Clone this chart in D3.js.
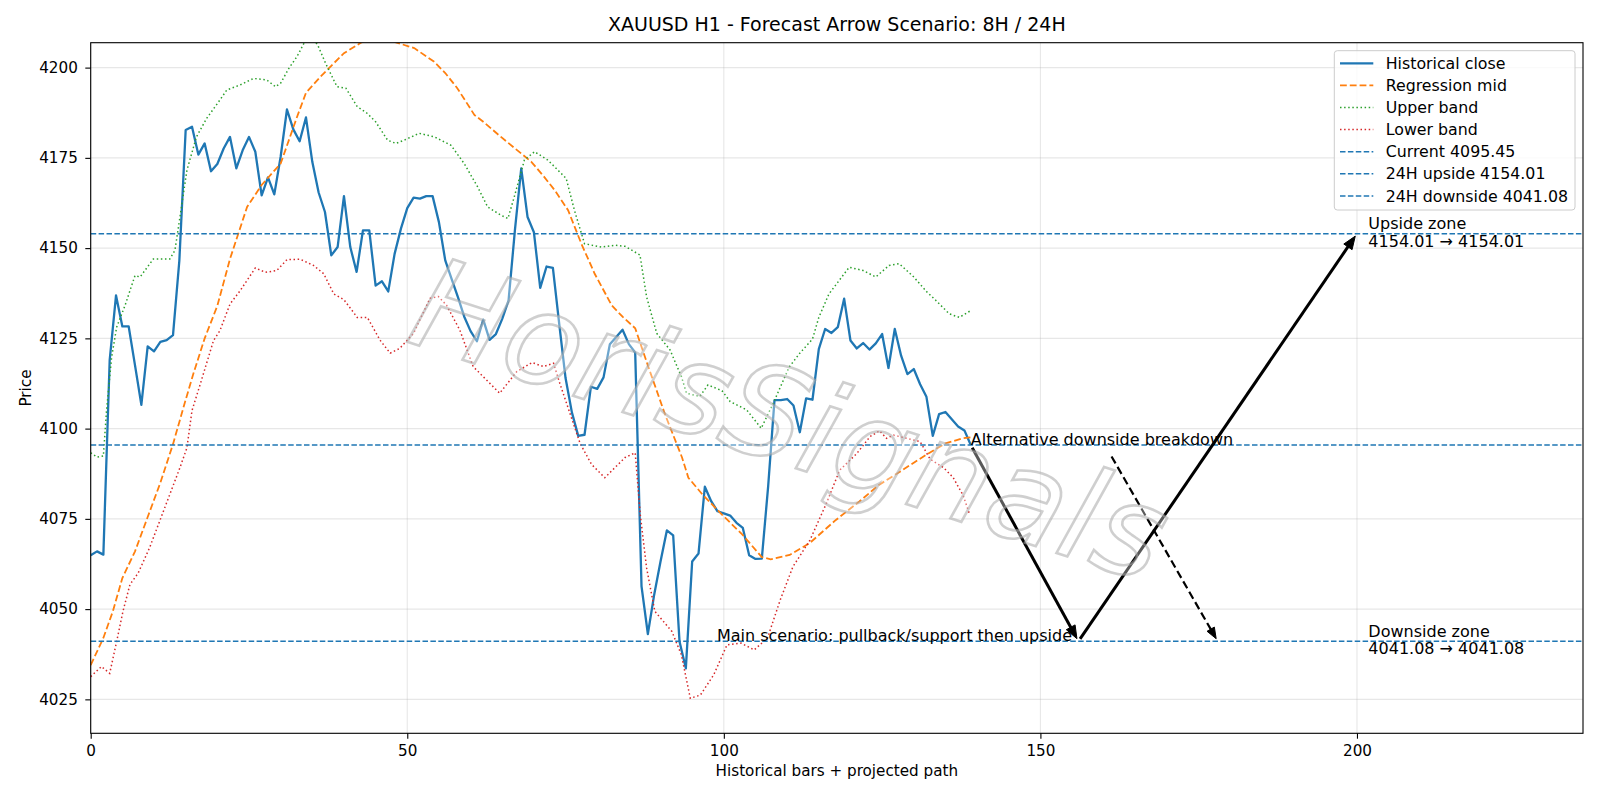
<!DOCTYPE html>
<html>
<head>
<meta charset="utf-8">
<script src="https://cdn.jsdelivr.net/npm/d3@7"></script>
<style>
  body { margin: 0; background: #fff; }
  svg text { font-family: "DejaVu Sans", sans-serif; }
</style>
</head>
<body>
<svg id="chart" width="1600" height="800"></svg>
<script>
// historical closes, one per bar (0..139)
const closes = [4064.9, 4066.0, 4065.1, 4119.0, 4136.9, 4128.3, 4128.3, 4117.5, 4106.6, 4122.8,
  4121.4, 4124.0, 4124.5, 4125.9, 4146.5, 4182.7, 4183.6, 4175.9, 4179.0, 4171.3,
  4173.3, 4177.6, 4180.8, 4172.1, 4177.1, 4180.8, 4176.7, 4164.6, 4169.6, 4164.9,
  4175.3, 4188.4, 4182.9, 4179.6, 4186.2, 4173.9, 4165.4, 4160.0, 4148.0, 4150.3,
  4164.4, 4150.3, 4143.4, 4154.9, 4154.9, 4139.6, 4140.8, 4138.0, 4148.4, 4155.4,
  4161.1, 4164.0, 4163.7, 4164.4, 4164.4, 4157.2, 4146.6, 4141.5, 4136.4, 4131.0,
  4127.0, 4124.2, 4130.2, 4124.6, 4126.2, 4130.4, 4135.5, 4154.9, 4172.1, 4158.6,
  4154.4, 4139.0, 4144.9, 4144.5, 4129.0, 4114.0, 4104.5, 4098.0, 4098.3, 4111.6,
  4111.0, 4114.2, 4123.4, 4125.4, 4127.4, 4123.4, 4121.1, 4056.3, 4043.1, 4054.0,
  4063.2, 4071.8, 4070.4, 4041.0, 4033.6, 4063.2, 4065.4, 4083.9, 4079.9, 4077.1,
  4076.5, 4075.9, 4073.9, 4072.5, 4064.9, 4063.9, 4064.0, 4084.0, 4107.9, 4107.9,
  4108.2, 4106.4, 4099.0, 4108.4, 4108.0, 4122.0, 4127.6, 4126.5, 4128.1, 4136.0,
  4124.4, 4122.2, 4123.7, 4121.9, 4123.6, 4126.2, 4116.8, 4127.6, 4120.2, 4115.1,
  4116.5, 4112.3, 4108.8, 4098.0, 4104.0, 4104.6, 4102.6, 4100.6, 4099.5, 4095.45];

// regression mid [bar, price]
const midLine = [[0,4034.5],[2,4042],[3.5,4049.4],[5,4058.6],[7,4066],[9,4075.5],[11,4085],[13,4095.7],
  [15,4108],[16.2,4115.1],[18,4125],[20,4134],[22,4147],[24.7,4161.4],[27,4167.5],[30,4173.4],
  [32.6,4186.4],[34,4193],[36.3,4197.5],[38,4200.5],[40,4204],[42.6,4206.8],[45,4209],[48.2,4207],
  [51.1,4205.4],[54.2,4201.7],[56,4198.5],[57.9,4194.3],[60.6,4186.9],[62,4185],[64.8,4180.8],
  [68,4176.2],[69.6,4173.9],[71.5,4170],[73.3,4166],[75.4,4160.5],[77.5,4151.2],[79.6,4142.9],
  [82.3,4134.1],[84,4131],[86,4127.8],[88,4117.5],[90.7,4104],[93.4,4092],[94.4,4086.4],[96.6,4081.8],
  [99.7,4076.2],[102.9,4070.7],[106,4064.4],[107.4,4063.8],[110.4,4065],[113.5,4068.2],[117.7,4074.7],
  [121.4,4079.8],[124.5,4084.4],[128.2,4088.5],[131.9,4092.7],[135,4095.9],[137.7,4097.3],[139,4097.6]];

// upper band [bar, price]
const upperBand = [[0,4093.3],[1,4092.1],[2,4092.4],[2.5,4105],[3.3,4119.7],[4.1,4128.1],[5.4,4134],
  [7,4142.4],[7.8,4142],[9.9,4147],[12.5,4147],[13.3,4149.4],[14.1,4158.6],[15.2,4171.6],[16.7,4180.8],
  [18.3,4185.9],[20.4,4191],[21.5,4193.8],[23.6,4195.2],[25.7,4197],[27.8,4196.6],[29.2,4194.7],
  [30,4195.7],[31.3,4199.8],[32.6,4203.1],[33.7,4206.8],[34.8,4208],[35.8,4206.5],[37.1,4201.2],
  [38.9,4194.7],[40.3,4194.3],[42.1,4189.2],[43.7,4187.3],[45,4185],[46.9,4179.9],[48.2,4179],
  [49.5,4179.9],[51.9,4181.8],[54.3,4180.8],[56.9,4178.5],[59,4173.4],[61.1,4167],[62.7,4161.4],
  [64.8,4159.1],[65.9,4158.2],[66.9,4164.2],[68.5,4174.4],[70.1,4176.7],[72.2,4174.4],[75.1,4169.3],
  [76.4,4160.5],[78,4151.2],[80.7,4150.3],[82.8,4150.8],[84.4,4150.5],[86.75,4148.1],[87.8,4136.5],
  [89.4,4126.4],[91.5,4121.8],[93.3,4114.4],[94.1,4109.8],[96.2,4108.9],[97.5,4112.1],[99.7,4110.5],
  [101,4107.5],[103.6,4105.2],[105.9,4100.1],[107.8,4107],[110.3,4117],[112,4120.9],[114,4124.8],
  [115,4130.8],[116.6,4137.3],[118.2,4141],[119.8,4144.7],[122,4143.8],[124,4142],[126.1,4145.2],
  [127.7,4145.7],[130,4142],[132,4138],[133.5,4135.5],[135.6,4131.8],[137.2,4130.8],[139,4132.7]];

// lower band [bar, price]
const lowerBand = [[0,4031.3],[1.7,4034.1],[3,4032.2],[4.1,4041],[5.1,4049.4],[6.2,4056.8],[7.5,4060],
  [9.3,4067],[10.9,4074.4],[12.5,4081.8],[14.1,4089.2],[15.2,4094.7],[16,4105],[17.3,4112.3],
  [19.4,4124.4],[20.4,4127.1],[22,4134.5],[23.6,4138.2],[26,4144.5],[27.6,4143.3],[29.4,4143.8],
  [31,4146.8],[33.1,4146.9],[35.2,4145.2],[36.8,4142.9],[38.4,4137.3],[40,4135.7],[42.1,4130.8],
  [43.7,4130.8],[45.7,4124.5],[47.3,4120.9],[48.8,4122.2],[51,4126.4],[53.6,4136.1],[54.9,4136.6],
  [56.2,4134.2],[58.3,4127.3],[60.4,4117.2],[62.5,4113.5],[64.6,4109.8],[67.3,4115.8],[69.7,4118.3],
  [71.5,4117.2],[73.1,4118.1],[74.1,4112.5],[77.3,4095.9],[79.1,4090.1],[81.2,4086.4],[82.8,4089.2],
  [84.4,4092],[86,4093.3],[86.8,4076.2],[87.8,4061.4],[89.1,4049.4],[91.8,4043.8],[93.3,4037.3],
  [94.7,4025.3],[96.3,4026.2],[98.4,4031.8],[100.5,4040.1],[102.7,4040.6],[104.8,4038.7],
  [106.9,4042],[108.9,4052.5],[110.9,4061.7],[113.6,4069.1],[116.2,4079.3],[118.3,4088.5],
  [121,4093.1],[123.1,4097.8],[124.6,4099.4],[125.7,4097.3],[126.8,4098.2],[128.9,4097.3],
  [131,4096.4],[132.6,4091.5],[134.7,4089.2],[136.2,4086.5],[137.8,4081.5],[138.8,4076.3]];

const levelNames = ['Current 4095.45', '24H upside 4154.01', '24H downside 4041.08'];
const levelValues = [4095.45, 4154.01, 4041.08];

// projected path: main scenario and alternative
const mainPath = [[139, 4095.45], [156, 4041.08], [200, 4154.01]];
const altPath = [[161, 4093], [178, 4041.08]];

const xTicks = [0, 50, 100, 150, 200];
const yTicks = [4025, 4050, 4075, 4100, 4125, 4150, 4175, 4200];

const svg = d3.select('#chart');
const margin = { top: 42.7, right: 17, bottom: 66.7, left: 90.7 };
const width = 1600 - margin.left - margin.right;
const height = 800 - margin.top - margin.bottom;

const x = d3.scaleLinear().domain([0, 235.7]).range([0, width]);
const y = d3.scaleLinear().domain([4015.6, 4206.9]).range([height, 0]);

const g = svg.append('g').attr('transform', `translate(${margin.left},${margin.top})`);

svg.append('defs').append('clipPath').attr('id', 'plot-clip')
  .append('rect').attr('width', width).attr('height', height);

// grid
g.append('g').selectAll('line.gx').data(xTicks).enter().append('line')
  .attr('x1', d => x(d)).attr('x2', d => x(d)).attr('y1', 0).attr('y2', height)
  .attr('stroke', '#b0b0b0').attr('stroke-opacity', 0.3).attr('stroke-width', 1.1);
g.append('g').selectAll('line.gy').data(yTicks).enter().append('line')
  .attr('x1', 0).attr('x2', width).attr('y1', d => y(d)).attr('y2', d => y(d))
  .attr('stroke', '#b0b0b0').attr('stroke-opacity', 0.3).attr('stroke-width', 1.1);

const plot = g.append('g').attr('clip-path', 'url(#plot-clip)');

const line = d3.line().x(d => x(d[0])).y(d => y(d[1]));

plot.append('path').datum(closes.map((v, i) => [i, v]))
  .attr('d', line).attr('fill', 'none')
  .attr('stroke', '#1f77b4').attr('stroke-width', 2.3).attr('stroke-linejoin', 'round');

plot.append('path').datum(midLine)
  .attr('d', line).attr('fill', 'none')
  .attr('stroke', '#ff7f0e').attr('stroke-width', 1.8).attr('stroke-dasharray', '6.8 3');

plot.append('path').datum(upperBand)
  .attr('d', line).attr('fill', 'none')
  .attr('stroke', '#2ca02c').attr('stroke-width', 1.5).attr('stroke-dasharray', '1.5 2.6');

plot.append('path').datum(lowerBand)
  .attr('d', line).attr('fill', 'none')
  .attr('stroke', '#d62728').attr('stroke-width', 1.5).attr('stroke-dasharray', '1.5 2.6');

levelValues.forEach(v => {
  plot.append('line')
    .attr('x1', 0).attr('x2', width).attr('y1', y(v)).attr('y2', y(v))
    .attr('stroke', '#1f77b4').attr('stroke-width', 1.5).attr('stroke-dasharray', '5.5 2.4');
});

// arrows (shrink ends a little, like matplotlib annotate)
const drawArrow = (p0, p1, lw, dash, headLen, headHalf) => {
  const x0 = x(p0[0]), y0 = y(p0[1]), x1 = x(p1[0]), y1 = y(p1[1]);
  const len = Math.hypot(x1 - x0, y1 - y0);
  const ux = (x1 - x0) / len, uy = (y1 - y0) / len;
  const sx = x0 + ux * 3, sy = y0 + uy * 3;
  const tx = x1 - ux * 3, ty = y1 - uy * 3;
  const bx = tx - ux * headLen, by = ty - uy * headLen;
  g.append('line')
    .attr('x1', sx).attr('y1', sy).attr('x2', bx + ux * 2).attr('y2', by + uy * 2)
    .attr('stroke', '#000').attr('stroke-width', lw)
    .attr('stroke-dasharray', dash);
  g.append('path')
    .attr('d', `M${tx},${ty}L${bx - uy * headHalf},${by + ux * headHalf}L${bx + uy * headHalf},${by - ux * headHalf}Z`)
    .attr('fill', '#000').attr('stroke', '#000').attr('stroke-width', 1).attr('stroke-linejoin', 'miter');
};
drawArrow(mainPath[0], mainPath[1], 3, null, 13, 5);
drawArrow(mainPath[1], mainPath[2], 3, null, 13, 5);
drawArrow(altPath[0], altPath[1], 2.2, '8 4', 11, 4.2);

// annotation texts
g.append('text').attr('x', x(139)).attr('y', y(4095.45))
  .attr('font-size', 16).text('Alternative downside breakdown');
g.append('text').attr('x', x(155)).attr('y', y(4041.08)).attr('text-anchor', 'end')
  .attr('font-size', 16).text('Main scenario: pullback/support then upside');

const zone = (label, v) => {
  const t = g.append('text').attr('x', x(201.8)).attr('y', y(v)).attr('font-size', 16);
  t.append('tspan').attr('x', x(201.8)).attr('dy', -4.3).text(label);
  t.append('tspan').attr('x', x(201.8)).attr('dy', 17.3).text(`${v.toFixed(2)} \u2192 ${v.toFixed(2)}`);
};
zone('Upside zone', 4154.01);
zone('Downside zone', 4041.08);

// watermark
svg.append('text')
  .attr('transform', 'translate(790,420) rotate(18)')
  .attr('text-anchor', 'middle').attr('dominant-baseline', 'central')
  .attr('font-size', 127).attr('font-style', 'italic')
  .attr('fill', 'rgba(255,255,255,0.35)')
  .attr('stroke', '#a8a8a8').attr('stroke-opacity', 0.55).attr('stroke-width', 2.6)
  .text('HorisSignals');

// axes
const xAxis = g.append('g').attr('transform', `translate(0,${height})`)
  .call(d3.axisBottom(x).tickValues(xTicks).tickSize(5.4).tickPadding(6.3));
const yAxis = g.append('g')
  .call(d3.axisLeft(y).tickValues(yTicks).tickFormat(d3.format('d')).tickSize(5.4).tickPadding(7.5));
[xAxis, yAxis].forEach(a => {
  a.select('.domain').remove();
  a.selectAll('text').attr('font-size', 15.2).attr('fill', '#000').attr('font-family', '"DejaVu Sans", sans-serif');
  a.selectAll('line').attr('stroke', '#000').attr('stroke-width', 1.1);
});

g.append('rect').attr('width', width).attr('height', height)
  .attr('fill', 'none').attr('stroke', '#000').attr('stroke-width', 1.1);

// titles
svg.append('text').attr('x', margin.left + width / 2).attr('y', 31)
  .attr('text-anchor', 'middle').attr('font-size', 19)
  .text('XAUUSD H1 - Forecast Arrow Scenario: 8H / 24H');
svg.append('text').attr('x', margin.left + width / 2).attr('y', 776)
  .attr('text-anchor', 'middle').attr('font-size', 15.2)
  .text('Historical bars + projected path');
svg.append('text').attr('transform', `translate(31,${margin.top + height / 2}) rotate(-90)`)
  .attr('text-anchor', 'middle').attr('font-size', 15.2).text('Price');

// legend
const legendItems = [
  { label: 'Historical close', color: '#1f77b4', w: 2.3, dash: null },
  { label: 'Regression mid', color: '#ff7f0e', w: 1.8, dash: '6.8 3' },
  { label: 'Upper band', color: '#2ca02c', w: 1.5, dash: '1.5 2.6' },
  { label: 'Lower band', color: '#d62728', w: 1.5, dash: '1.5 2.6' },
  ...levelNames.map(n => ({ label: n, color: '#1f77b4', w: 1.5, dash: '5.5 2.4' }))
];
const legend = svg.append('g').attr('transform', 'translate(1334.3,50.7)');
legend.append('rect').attr('width', 240.7).attr('height', 159.3).attr('rx', 3)
  .attr('fill', '#fff').attr('fill-opacity', 0.8).attr('stroke', '#cccccc').attr('stroke-width', 1);
legendItems.forEach((d, i) => {
  const cy = 12.6 + i * 22.1;
  legend.append('line').attr('x1', 5.7).attr('x2', 39).attr('y1', cy).attr('y2', cy)
    .attr('stroke', d.color).attr('stroke-width', d.w).attr('stroke-dasharray', d.dash);
  legend.append('text').attr('x', 51.4).attr('y', cy).attr('dy', '0.36em')
    .attr('font-size', 15.8).text(d.label);
});
</script>
</body>
</html>
